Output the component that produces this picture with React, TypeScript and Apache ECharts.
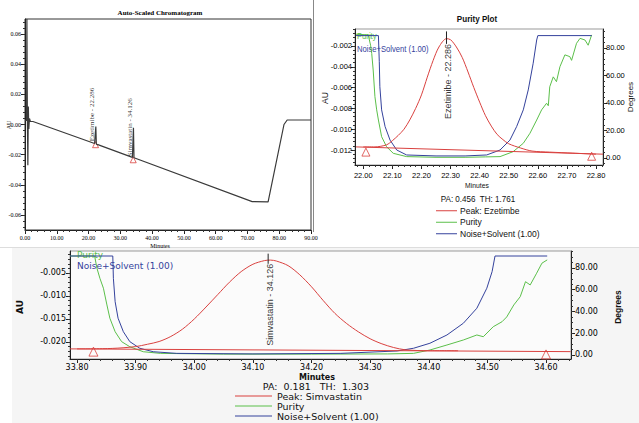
import { useEffect, useRef } from 'react';
import * as echarts from 'echarts';

// ---------- Panel 1: Auto-Scaled Chromatogram ----------
const chromTime = [0, 0.5, 0.6, 0.75, 0.9, 1.05, 1.2, 1.4, 1.7, 2.5, 21.9, 22.1, 22.29, 22.45, 22.7, 33.8, 34.0, 34.13, 34.3, 34.5, 71.5, 76.5, 81.5, 82.5, 90.0];
const chromAU = [0.0027, 0.0027, 0.07, 0.004, -0.027, 0.012, -0.003, 0.004, 0.002, 0.002, -0.0126, -0.0128, -0.0013, -0.013, -0.0132, -0.0218, -0.0219, -0.0022, -0.0221, -0.0223, -0.0512, -0.0513, 0.0, 0.003, 0.003];
const chromPeakTime = [22.286, 34.126];
const chromPeakLabelAU = [-0.0105, -0.0205];
const chromPeakNames = ['Ezetimibe - 22.286', 'Simvastatin - 34.126'];
const chromTriTime = [22.2, 34.05];
const chromTriAU = [-0.0134, -0.0234];
const p1XTicks = [0, 10, 20, 30, 40, 50, 60, 70, 80, 90];
const p1YTicks = [-0.06, -0.04, -0.02, 0, 0.02, 0.04, 0.06];

// ---------- Panel 2: Purity Plot (Ezetimibe) ----------
const ezeTime = [22.0, 22.04, 22.08, 22.1, 22.12, 22.14, 22.16, 22.18, 22.2, 22.22, 22.24, 22.26, 22.286, 22.3, 22.32, 22.34, 22.36, 22.38, 22.4, 22.42, 22.44, 22.46, 22.48, 22.5, 22.54, 22.58, 22.64, 22.72, 22.8];
const ezeAU = [-0.0117, -0.0117, -0.0115, -0.0111, -0.0106, -0.01, -0.0091, -0.008, -0.0067, -0.005, -0.0034, -0.0021, -0.0013, -0.0014, -0.0021, -0.0031, -0.0045, -0.006, -0.0074, -0.0087, -0.0097, -0.0105, -0.011, -0.0114, -0.0118, -0.0121, -0.0122, -0.0123, -0.0124];
const ezeBaseTime = [21.975, 22.824];
const ezeBaseAU = [-0.0117, -0.0124];
const ezeTriTime = [22.009, 22.785];
const ezeTriAU = [-0.0122, -0.0126];
const ezePurTime = [21.975, 22.017, 22.025, 22.029, 22.034, 22.04, 22.046, 22.052, 22.063, 22.08, 22.103, 22.149, 22.25, 22.35, 22.42, 22.47, 22.515, 22.55, 22.573, 22.596, 22.613, 22.63, 22.636, 22.641, 22.653, 22.664, 22.676, 22.693, 22.71, 22.716, 22.733, 22.745, 22.762, 22.773, 22.785];
const ezePurDeg = [90, 89.5, 82, 76, 64, 44.6, 35, 27.6, 15.5, 8.2, 3.4, 1.0, 0.5, 0.5, 0.8, 1.0, 4.6, 10.7, 18, 27.6, 35, 39.8, 38, 51.8, 59, 55.5, 66.4, 75, 73.7, 71, 83.4, 87, 85.8, 82, 89.5];
const ezeNoiseTime = [21.975, 22.052, 22.055, 22.057, 22.063, 22.075, 22.092, 22.115, 22.149, 22.25, 22.35, 22.424, 22.47, 22.504, 22.527, 22.55, 22.567, 22.584, 22.596, 22.6, 22.785];
const ezeNoiseDeg = [89, 89, 70, 51.8, 35, 22.8, 13, 5.8, 2.2, 1.5, 1.5, 2.2, 5.8, 13, 22.8, 35, 49.5, 68.9, 85.8, 89, 89];
const ezeApexTime = [22.286, 22.286];
const ezeApexAU = [-0.0006, -0.0018];
const p2XTicks = [22.0, 22.1, 22.2, 22.3, 22.4, 22.5, 22.6, 22.7, 22.8];
const p2YTicks = [-0.012, -0.01, -0.008, -0.006, -0.004, -0.002];
const p2RTicks = [0, 20, 40, 60, 80];

// ---------- Panel 3: Purity Plot (Simvastatin) ----------
const simTime = [33.8, 33.86, 33.9, 33.92, 33.94, 33.96, 33.98, 34.0, 34.02, 34.04, 34.06, 34.08, 34.1, 34.12, 34.13, 34.14, 34.16, 34.18, 34.2, 34.22, 34.24, 34.26, 34.28, 34.3, 34.32, 34.34, 34.36, 34.4, 34.45];
const simAU = [-0.0215, -0.0214, -0.021, -0.0205, -0.0199, -0.0188, -0.0172, -0.015, -0.0124, -0.0097, -0.007, -0.0047, -0.0031, -0.0023, -0.0022, -0.0024, -0.0034, -0.0054, -0.008, -0.011, -0.0138, -0.016, -0.0178, -0.0193, -0.0204, -0.0212, -0.0217, -0.0219, -0.0219];
const simBaseTime = [33.788, 34.642];
const simBaseAU = [-0.0215, -0.0221];
const simTriTime = [33.828, 34.6];
const simTriAU = [-0.0221, -0.0227];
const simPurTime = [33.788, 33.83, 33.834, 33.839, 33.845, 33.851, 33.856, 33.865, 33.876, 33.89, 33.913, 33.942, 34.05, 34.2, 34.33, 34.374, 34.402, 34.431, 34.459, 34.482, 34.493, 34.51, 34.525, 34.533, 34.545, 34.556, 34.565, 34.573, 34.584, 34.593, 34.602];
const simPurDeg = [91, 91, 79.7, 70.5, 61.4, 46, 33.8, 21.4, 12.3, 7.6, 3.0, 1.5, 0.8, 0.8, 1.0, 1.5, 4.6, 9.2, 13.8, 18.4, 16.8, 26, 30.6, 35, 46, 53.6, 67.4, 64.4, 75.2, 84.4, 87.4];
const simNoiseTime = [33.788, 33.861, 33.862, 33.865, 33.87, 33.879, 33.89, 33.907, 33.93, 33.97, 34.1, 34.25, 34.346, 34.374, 34.402, 34.431, 34.459, 34.482, 34.499, 34.508, 34.513, 34.602];
const simNoiseDeg = [91, 91, 70.5, 49, 33.8, 21.4, 12.3, 6.2, 3.0, 1.5, 1.0, 1.5, 3.7, 6.2, 10.8, 18.4, 29.2, 43, 61.4, 76.6, 91, 91];
const simApexTime = [34.126, 34.126];
const simApexAU = [-0.0008, -0.003];
const p3XTicks = [33.8, 33.9, 34.0, 34.1, 34.2, 34.3, 34.4, 34.5, 34.6];
const p3YTicks = [-0.02, -0.015, -0.01, -0.005];
const p3RTicks = [0, 20, 40, 60, 80];

const RED = '#d9413f';
const GREEN = '#5bbf4a';
const BLUE = '#34429c';
const F1 = "'Liberation Serif', 'DejaVu Serif', 'Times New Roman', serif";
const F2 = "'Liberation Sans', Arial, sans-serif";
const F3 = "'DejaVu Sans', Verdana, sans-serif";

const zip = (a: number[], b: number[]) => a.map((v, i) => [v, b[i]]);
const steps = (a: number, b: number, s: number) => {
  const out: number[] = [];
  const n = Math.round((b - a) / s);
  for (let i = 0; i <= n; i++) out.push(+(a + i * s).toFixed(6));
  return out;
};

function axisPair(s: any) {
  const common = {
    type: 'value', gridIndex: s.grid, min: s.min, max: s.max, position: s.pos,
    splitLine: { show: false },
  };
  const main = {
    ...common,
    axisLine: { show: true, onZero: false, lineStyle: { color: '#222', width: 1 } },
    axisTick: { show: true, customValues: s.major, length: 4, lineStyle: { color: '#222' } },
    axisLabel: {
      show: true, customValues: s.major, formatter: (v: number) => v.toFixed(s.digits),
      fontFamily: s.font, fontSize: s.size, color: '#000', margin: s.margin,
    },
  };
  const minor = {
    ...common,
    axisLine: { show: false, onZero: false },
    axisTick: { show: true, customValues: s.minor, length: 2, lineStyle: { color: '#333' } },
    axisLabel: { show: false },
  };
  return [main, minor];
}

const lineS = (name: string, xi: number, yi: number, data: number[][], color: string, width = 1, smooth: any = false) => ({
  type: 'line', name, xAxisIndex: xi, yAxisIndex: yi, data, symbol: 'none', showSymbol: false,
  smooth, lineStyle: { color, width }, itemStyle: { color }, silent: true,
});
const triS = (xi: number, yi: number, data: number[][], size: number) => ({
  type: 'scatter', name: 'tri' + xi, xAxisIndex: xi, yAxisIndex: yi, data, symbol: 'triangle', symbolSize: size,
  itemStyle: { color: 'rgba(255,255,255,0)', borderColor: RED, borderWidth: 1 }, silent: true,
});
const labelS = (xi: number, yi: number, t: number[], v: number[], names: string[], lab: any) => ({
  type: 'scatter', name: 'lab' + xi, xAxisIndex: xi, yAxisIndex: yi,
  data: t.map((x, i) => ({ value: [x, v[i]], name: names[i] })),
  symbol: 'circle', symbolSize: 1, itemStyle: { color: 'rgba(0,0,0,0)' }, silent: true,
  label: { show: true, formatter: '{b}', position: 'inside', rotate: 90, color: '#000', ...lab },
});
const txt = (text: string, x: number, y: number, o: any = {}) => ({
  type: 'text', x, y, rotation: o.rot || 0, scaleX: o.sx || 1, silent: true,
  style: {
    text, fill: o.color || '#111', fontSize: o.size || 9, fontFamily: o.font || F3,
    fontWeight: o.weight || 'normal', align: o.align || 'center', verticalAlign: 'middle',
  },
});

const [x0, x1] = axisPair({ grid: 0, min: 0, max: 90, major: p1XTicks, minor: steps(0, 90, 2), digits: 2, pos: 'bottom', font: F1, size: 6, margin: 5 });
const [y0, y1] = axisPair({ grid: 0, min: -0.07, max: 0.07, major: p1YTicks, minor: steps(-0.068, 0.068, 0.004), digits: 2, pos: 'left', font: F1, size: 6, margin: 4 });
const [x2, x3] = axisPair({ grid: 1, min: 21.9715, max: 22.824, major: p2XTicks, minor: steps(21.98, 22.82, 0.02), digits: 2, pos: 'bottom', font: F2, size: 7.5, margin: 6 });
const [y2, y3] = axisPair({ grid: 1, min: -0.01344, max: -0.00037, major: p2YTicks, minor: steps(-0.0132, -0.0004, 0.0004), digits: 3, pos: 'left', font: F2, size: 7.5, margin: 3 });
const [y4, y5] = axisPair({ grid: 1, min: -5.09, max: 93.8, major: p2RTicks, minor: steps(-4, 92, 4), digits: 2, pos: 'right', font: F2, size: 7.5, margin: 3 });
const [x4, x5] = axisPair({ grid: 2, min: 33.788, max: 34.6426, major: p3XTicks, minor: steps(33.8, 34.64, 0.02), digits: 2, pos: 'bottom', font: F3, size: 8, margin: 4 });
const [y6, y7] = axisPair({ grid: 2, min: -0.0237, max: -0.00022, major: p3YTicks, minor: steps(-0.023, 0, 0.001), digits: 3, pos: 'left', font: F3, size: 8, margin: 4 });
const [y8, y9] = axisPair({ grid: 2, min: -3.68, max: 95.6, major: p3RTicks, minor: steps(0, 95, 5), digits: 2, pos: 'right', font: F3, size: 8, margin: 4 });

const option: any = {
  animation: false,
  backgroundColor: '#ffffff',
  grid: [
    { left: 25, top: 19, width: 286, height: 211, show: true, borderColor: '#333', borderWidth: 1, backgroundColor: '#fff', outerBoundsMode: 'none', containLabel: false },
    { left: 355, top: 29, width: 248, height: 136, show: true, borderColor: '#999', borderWidth: 1, backgroundColor: '#fff', outerBoundsMode: 'none', containLabel: false },
    { left: 70, top: 251, width: 501, height: 108, show: true, borderColor: '#999', borderWidth: 1, backgroundColor: '#fbfbfb', outerBoundsMode: 'none', containLabel: false },
  ],
  xAxis: [x0, x1, x2, x3, x4, x5],
  yAxis: [y0, y1, y2, y3, y4, y5, y6, y7, y8, y9],
  legend: [
    {
      data: ['Peak: Ezetimbe', 'Purity', 'Noise+Solvent (1.00)'], left: 436, top: 205, orient: 'vertical',
      icon: 'rect', itemWidth: 21, itemHeight: 1, itemGap: 0, padding: 0, selectedMode: false,
      textStyle: { fontFamily: F2, fontSize: 8.5, lineHeight: 11.5, color: '#111', padding: [0, 0, 0, -2] },
    },
    {
      data: ['Peak: Simvastatin', 'Purity', 'Noise+Solvent (1.00)'], left: 235, top: 391, orient: 'vertical',
      icon: 'rect', itemWidth: 37, itemHeight: 1, itemGap: 0, padding: 0, selectedMode: false,
      textStyle: { fontFamily: F3, fontSize: 9.5, lineHeight: 10, color: '#111' },
    },
  ],
  graphic: [
    { type: 'rect', z: -100, silent: true, shape: { x: 12, y: 247, width: 627, height: 176 }, style: { fill: '#f5f5f5' } },
    { type: 'line', silent: true, shape: { x1: 313.5, y1: 0, x2: 313.5, y2: 232 }, style: { stroke: '#888', lineWidth: 1 } },
    { type: 'line', silent: true, shape: { x1: 0, y1: 247.5, x2: 639, y2: 247.5 }, style: { stroke: '#ddd', lineWidth: 1 } },
    txt('Auto-Scaled Chromatogram', 160, 13, { font: F1, size: 7, weight: 'bold', color: '#000' }),
    txt('Minutes', 160, 246, { font: F1, size: 6, color: '#000' }),
    txt('AU', 9, 125, { font: F1, size: 6, rot: Math.PI / 2, color: '#000' }),
    txt('Purity Plot', 477, 19, { font: F2, size: 9.5, weight: 'bold', sx: 0.85 }),
    txt('AU', 325, 98, { font: F2, size: 8.5, rot: Math.PI / 2 }),
    txt('Degrees', 630, 97, { font: F2, size: 8, rot: Math.PI / 2 }),
    txt('Minutes', 477, 185, { font: F2, size: 8, sx: 0.85 }),
    txt('PA: 0.456  TH: 1.761', 478, 199, { font: F2, size: 9.5, sx: 0.85 }),
    txt('Purity', 357, 36, { font: F2, size: 9, color: GREEN, align: 'left', sx: 0.85 }),
    txt('Noise+Solvent (1.00)', 357, 49, { font: F2, size: 9, color: BLUE, align: 'left', sx: 0.85 }),
    txt('AU', 20, 307, { font: F3, size: 9, weight: 'bold', rot: Math.PI / 2 }),
    txt('Degrees', 618, 307, { font: F2, size: 8.5, weight: 'bold', rot: Math.PI / 2 }),
    txt('Minutes', 317, 377, { font: F3, size: 8, weight: 'bold' }),
    txt('PA:  0.181   TH:  1.303', 316, 386, { font: F3, size: 9.5 }),
    txt('Purity', 77, 255, { font: F3, size: 9, color: GREEN, align: 'left' }),
    txt('Noise+Solvent (1.00)', 77, 266, { font: F3, size: 9, color: BLUE, align: 'left' }),
  ],
  series: [
    // Panel 1
    lineS('chrom', 0, 0, zip(chromTime, chromAU), '#3a3a3a', 1.2),
    triS(0, 0, zip(chromTriTime, chromTriAU), 6),
    labelS(0, 0, chromPeakTime, chromPeakLabelAU, chromPeakNames, { align: 'left', verticalAlign: 'bottom', offset: [-1, 0], fontFamily: F1, fontSize: 7 }),
    // Panel 2
    lineS('Purity', 2, 4, zip(ezePurTime, ezePurDeg), GREEN, 1),
    lineS('Noise+Solvent (1.00)', 2, 4, zip(ezeNoiseTime, ezeNoiseDeg), BLUE, 1),
    lineS('Peak: Ezetimbe', 2, 2, zip(ezeTime, ezeAU), RED, 1, 0.3),
    lineS('ezeBase', 2, 2, zip(ezeBaseTime, ezeBaseAU), RED, 1),
    triS(2, 2, zip(ezeTriTime, ezeTriAU), 8),
    lineS('ezeApex', 2, 2, zip(ezeApexTime, ezeApexAU), '#222', 1),
    labelS(2, 2, [ezeApexTime[1]], [ezeApexAU[1]], ['Ezetimibe - 22.286'], { align: 'right', verticalAlign: 'middle', offset: [0, 2], fontFamily: F2, fontSize: 9 }),
    // Panel 3
    lineS('Purity', 4, 8, zip(simPurTime, simPurDeg), GREEN, 1),
    lineS('Noise+Solvent (1.00)', 4, 8, zip(simNoiseTime, simNoiseDeg), BLUE, 1),
    lineS('Peak: Simvastatin', 4, 6, zip(simTime, simAU), RED, 1, 0.3),
    lineS('simBase', 4, 6, zip(simBaseTime, simBaseAU), RED, 1),
    triS(4, 6, zip(simTriTime, simTriAU), 9),
    lineS('simApex', 4, 6, zip(simApexTime, simApexAU), '#222', 1),
    labelS(4, 6, [simApexTime[1]], [simApexAU[1]], ['Simvastatin - 34.126'], { align: 'right', verticalAlign: 'middle', offset: [0, 2], fontFamily: F2, fontSize: 9 }),
  ],
};

export default function App() {
  const ref = useRef<HTMLDivElement>(null);
  useEffect(() => {
    document.body.style.margin = '0';
    const chart = echarts.init(ref.current as HTMLDivElement, undefined, { renderer: 'svg' });
    chart.setOption(option);
    return () => chart.dispose();
  }, []);
  return <div ref={ref} style={{ width: 639, height: 423, background: '#fff' }} />;
}
